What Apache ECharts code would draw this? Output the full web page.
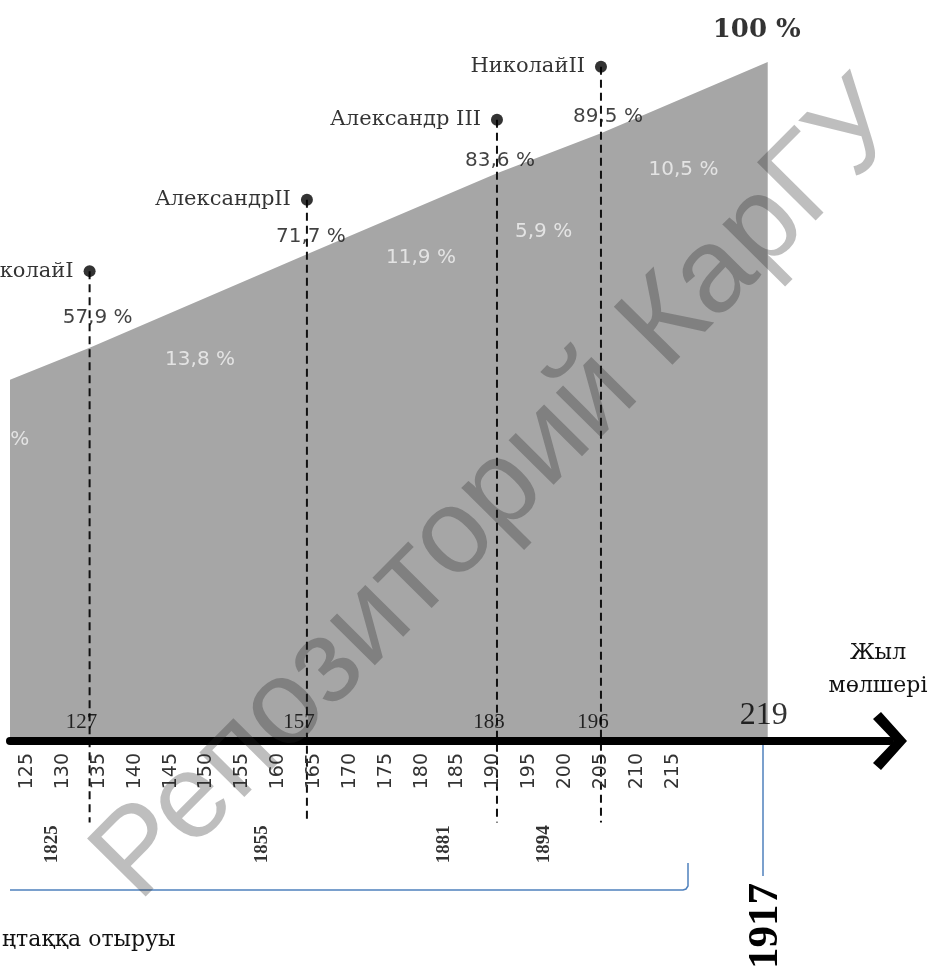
<!DOCTYPE html>
<html>
<head>
<meta charset="utf-8">
<style>
  html, body { margin: 0; padding: 0; background: #fff; }
  #chart { width: 934px; height: 972px; }
</style>
<script src="https://cdn.jsdelivr.net/npm/echarts@6/dist/echarts.min.js"></script>
</head>
<body>
<div id="chart"></div>
<script>
  // tick labels along the "years" axis
  var tickValues = [125, 130, 135, 140, 145, 150, 155, 160, 165, 170, 175, 180, 185, 190, 195, 200, 205, 210, 215];

  // reigns: ruler, years counted, axis position of the reign line, cumulative share
  var rulers = ['НиколайI', 'АлександрII', 'Александр III', 'НиколайII'];
  var reignCounts = ['127', '157', '183', '196'];
  var reignPos = [133.7, 164.0, 190.5, 205.0];
  var cumShare = [57.9, 71.7, 83.6, 89.5];
  var dotPct = [69.2, 79.7, 91.5, 99.3];
  var accession = ['1825', '1855', '1881', '1894'];
  var accessionPos = [128.4, 157.8, 183.1, 197.0];

  // shares of each period (first one is cut off at the left edge)
  var segShare = ['%', '13,8 %', '11,9 %', '5,9 %', '10,5 %'];
  var segLabelAt = [[123.95, 44.3], [149.1, 56.1], [179.9, 71.1], [197.0, 75.0], [216.5, 84.1]];

  var edgeStart = [122.6, 53.2];
  var endCount = '219';
  var endPos = 228.25;
  var endYear = '1917';

  function pctText(v) { return String(v).replace('.', ',') + ' %'; }

  var chart = echarts.init(document.getElementById('chart'));

  var areaData = [edgeStart].concat(reignPos.map(function (p, i) { return [p, cumShare[i]]; })).concat([[endPos, 100]]);

  var series = [
    {
      type: 'line', data: areaData, symbol: 'none', z: 1,
      lineStyle: { width: 0 },
      areaStyle: { color: '#a6a6a6', opacity: 1 }
    }
  ];

  // dashed reign lines
  reignPos.forEach(function (p, i) {
    series.push({
      type: 'line', data: [[p, dotPct[i]], [p, -12]], symbol: 'none', clip: false, z: 3,
      lineStyle: { color: '#111', width: 2, type: [8, 5] }
    });
  });

  // ruler dots with names
  series.push({
    type: 'scatter', clip: false, z: 4, symbolSize: 12,
    itemStyle: { color: '#000' },
    data: reignPos.map(function (p, i) { return { name: rulers[i], value: [p, dotPct[i]] }; }),
    label: {
      show: true, position: 'left', distance: 10, formatter: '{b}',
      fontFamily: 'DejaVu Serif', fontSize: 21, color: '#000'
    }
  });

  // cumulative share labels
  var cumOffsets = [[8, -30], [4, -17], [3, -13], [7, -16]];
  series.push({
    type: 'scatter', clip: false, z: 5, symbolSize: 1,
    itemStyle: { color: 'rgba(0,0,0,0)' },
    data: reignPos.map(function (p, i) {
      return { value: [p, cumShare[i]], label: { offset: cumOffsets[i] } };
    }),
    label: {
      show: true, position: 'inside',
      formatter: function (d) { return pctText(d.value[1]); },
      fontFamily: 'DejaVu Sans', fontSize: 20, color: '#111'
    }
  });

  // period share labels (white, inside the grey area)
  series.push({
    type: 'scatter', clip: false, z: 5, symbolSize: 1,
    itemStyle: { color: 'rgba(0,0,0,0)' },
    data: segLabelAt.map(function (at, i) { return { name: segShare[i], value: at }; }),
    label: {
      show: true, position: 'inside', formatter: '{b}',
      fontFamily: 'DejaVu Sans', fontSize: 20, color: '#f2f2f2'
    }
  });

  // year counts above the axis
  series.push({
    type: 'scatter', clip: false, z: 5, symbolSize: 1,
    itemStyle: { color: 'rgba(0,0,0,0)' },
    data: reignPos.map(function (p, i) { return { name: reignCounts[i], value: [p, 0] }; })
      .concat([{ name: endCount, value: [endPos, 0], label: { offset: [-4, -25], fontSize: 32 } }])
      .concat([{ name: '100 %', value: [endPos, 100], label: { offset: [-11, -32], fontSize: 26, fontWeight: 'bold', fontFamily: 'DejaVu Serif' } }]),
    label: {
      show: true, position: 'inside', offset: [-8, -19], formatter: '{b}',
      fontFamily: 'Liberation Serif', fontSize: 21, color: '#000'
    }
  });

  // accession years below the axis
  series.push({
    type: 'scatter', clip: false, z: 5, symbolSize: 1,
    itemStyle: { color: 'rgba(0,0,0,0)' },
    data: accessionPos.map(function (p, i) { return { name: accession[i], value: [p, -15.2] }; }),
    label: {
      show: true, position: 'inside', rotate: 90, formatter: '{b}',
      fontFamily: 'Liberation Serif', fontWeight: 'bold', fontSize: 19, color: '#000'
    }
  });

  var option = {
    animation: false,
    backgroundColor: '#fff',
    grid: { left: 10, right: 44, top: 62, bottom: 231, outerBoundsMode: 'none' },
    xAxis: {
      type: 'value', min: 122.6, max: 245.3, z: 10,
      name: 'Жыл\nмөлшері', nameLocation: 'end', nameGap: -12,
      nameTextStyle: {
        align: 'center', verticalAlign: 'bottom', padding: [0, 0, 38, 0],
        fontFamily: 'DejaVu Serif', fontSize: 22, lineHeight: 33, color: '#111'
      },
      axisLine: {
        show: true, onZero: false,
        symbol: ['none', 'path://M29,0 L58,26 L51,34 L29,13 L7,34 L0,26 Z'],
        symbolSize: [58, 34],
        lineStyle: { color: '#000', width: 8 }
      },
      axisTick: { show: false },
      splitLine: { show: false },
      axisLabel: {
        customValues: tickValues, rotate: 90, margin: 12,
        fontFamily: 'DejaVu Sans', fontSize: 19, color: '#333'
      }
    },
    yAxis: { type: 'value', min: 0, max: 100, show: false },
    series: series,
    graphic: [
      {
        type: 'polyline', z: 20, silent: true,
        shape: { points: [[10, 890], [683, 890], [686, 889], [688, 886], [688, 863]] },
        style: { fill: null, stroke: '#4f81bd', lineWidth: 1.5 }
      },
      {
        type: 'line', z: 20, silent: true,
        shape: { x1: 763, y1: 745, x2: 763, y2: 876 },
        style: { stroke: '#4f81bd', lineWidth: 1.5 }
      },
      {
        type: 'text', z: 20, silent: true, x: 766, y: 926, rotation: Math.PI / 2,
        style: {
          text: endYear, align: 'center', verticalAlign: 'middle',
          font: 'bold 43px "Liberation Serif"', fill: '#000'
        }
      },
      {
        type: 'text', z: 20, silent: true, x: 2, y: 940,
        style: {
          text: 'ңтаққа отыруы', align: 'left', verticalAlign: 'middle',
          font: '22px "DejaVu Serif"', fill: '#111'
        }
      },
      {
        type: 'text', z: 100, silent: true, x: 500, y: 492, rotation: 0.79,
        style: {
          text: 'Репозиторий КарГУ', align: 'center', verticalAlign: 'middle',
          font: '120px "Liberation Sans"', fill: 'rgba(40,40,40,0.3)'
        }
      }
    ]
  };

  chart.setOption(option);
</script>
</body>
</html>
